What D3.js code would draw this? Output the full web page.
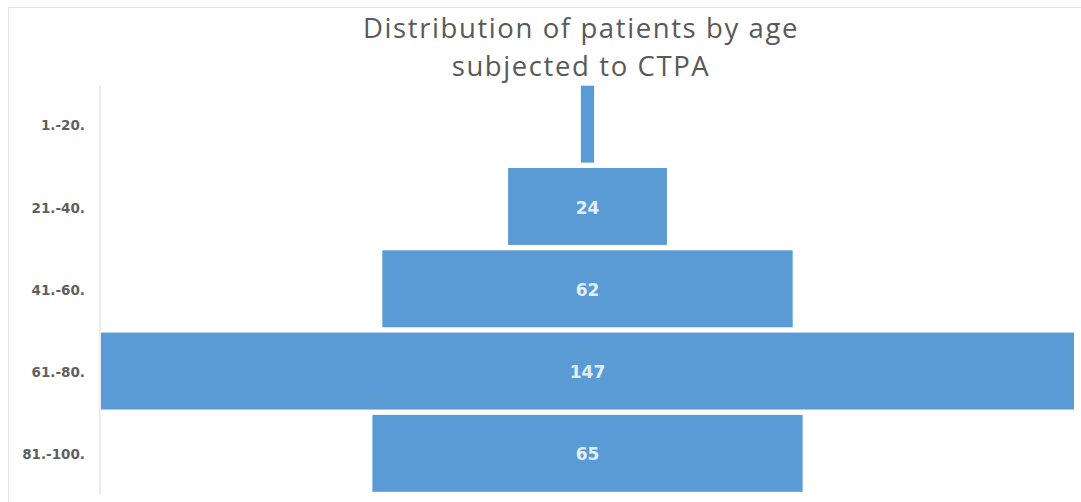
<!DOCTYPE html>
<html>
<head>
<meta charset="utf-8">
<script src="https://cdn.jsdelivr.net/npm/d3@7"></script>
<style>
  html, body { margin: 0; padding: 0; background: #fff; }
  svg { display: block; }
</style>
</head>
<body>
<svg id="chart" width="1081" height="502"></svg>
<script>
// Age groups and patient counts
const ageGroups = ["1.-20.", "21.-40.", "41.-60.", "61.-80.", "81.-100."];
const patientCounts = [2, 24, 62, 147, 65];
const titleLines = ["Distribution of patients by age", "subjected to CTPA"];

const svg = d3.select("#chart");
const W = 1081, H = 502;

// Chart frame
svg.append("rect")
  .attr("x", 8.5).attr("y", 7.5)
  .attr("width", W + 10).attr("height", H + 10)
  .attr("fill", "#fff")
  .attr("stroke", "#e3e3e3")
  .attr("stroke-width", 1);

// Title
svg.append("text")
  .attr("text-anchor", "middle")
  .attr("font-family", "'Open Sans', 'Noto Sans', sans-serif")
  .attr("font-size", 27.5)
  .attr("letter-spacing", 1.6)
  .attr("fill", "#595959")
  .selectAll("tspan")
  .data(titleLines)
  .join("tspan")
  .attr("x", 581)
  .attr("y", (d, i) => 38 + i * 38)
  .text(d => d);

// Plot area
const plotLeft = 101, plotRight = 1074;
const center = (plotLeft + plotRight) / 2;

const x = d3.scaleLinear()
  .domain([0, d3.max(patientCounts)])
  .range([0, plotRight - plotLeft]);

const y = d3.scaleBand()
  .domain(ageGroups)
  .range([83, 494.5])
  .paddingInner(0.065)
  .paddingOuter(0.0325);

const data = ageGroups.map((g, i) => ({ group: g, value: patientCounts[i] }));

// Category axis
const yAxis = svg.append("g")
  .attr("transform", `translate(${plotLeft - 1},0)`)
  .call(d3.axisLeft(y).tickSize(0).tickPadding(15));
yAxis.select(".domain")
  .attr("stroke", "#d9d9d9")
  .attr("d", `M0,85V495`);
yAxis.selectAll("text")
  .attr("font-family", "'DejaVu Sans', sans-serif")
  .attr("font-size", 13.5)
  .attr("font-weight", "bold")
  .attr("fill", "#5f5f5f")
  .attr("dy", "0.45em");

// Centred bars
svg.append("g")
  .selectAll("rect")
  .data(data)
  .join("rect")
  .attr("x", d => center - x(d.value) / 2)
  .attr("y", d => y(d.group))
  .attr("width", d => x(d.value))
  .attr("height", y.bandwidth())
  .attr("fill", "#5b9bd5");

// Value labels (only where the bar is wide enough)
svg.append("g")
  .selectAll("text")
  .data(data.filter(d => x(d.value) > 40))
  .join("text")
  .attr("x", center)
  .attr("y", d => y(d.group) + y.bandwidth() / 2 + 1)
  .attr("dy", "0.36em")
  .attr("text-anchor", "middle")
  .attr("font-family", "'DejaVu Sans', sans-serif")
  .attr("font-size", 17)
  .attr("font-weight", "bold")
  .attr("fill", "#e4eef9")
  .text(d => d.value);
</script>
</body>
</html>
